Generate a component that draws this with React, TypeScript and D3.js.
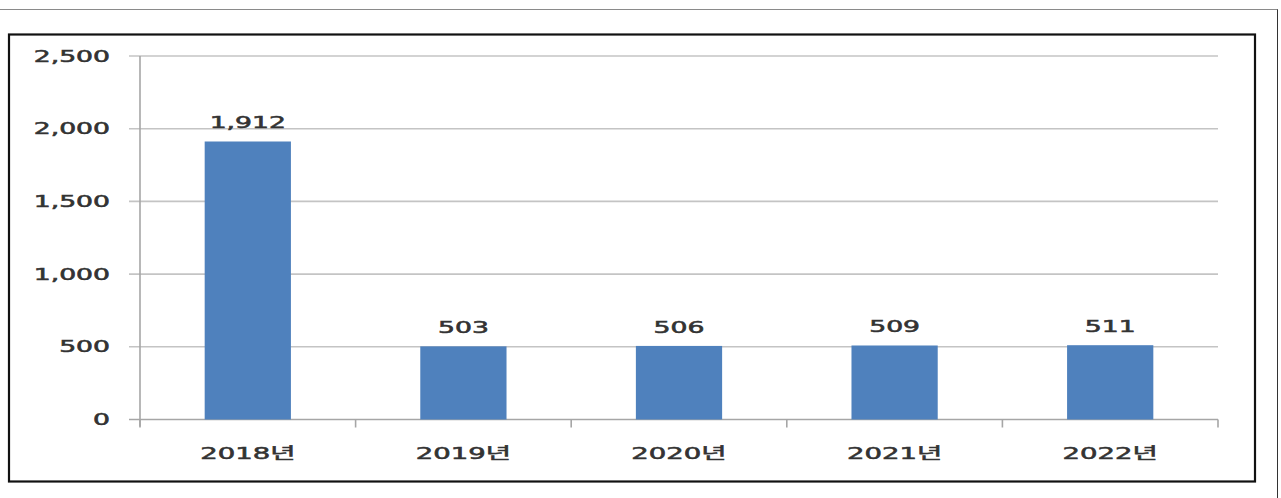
import React, { useEffect, useRef } from 'react'
import * as d3 from 'd3'

const years = ['2018년', '2019년', '2020년', '2021년', '2022년']
const values = [1912, 503, 506, 509, 511]
const yTicks = [0, 500, 1000, 1500, 2000, 2500]

const W = 1281
const H = 498
const FONT = '"DejaVu Sans", "Noto Sans CJK KR", sans-serif'
const SX = 1.72

export default function App() {
	const ref = useRef<SVGSVGElement>(null)

	useEffect(() => {
		const svg = d3.select(ref.current)
		svg.selectAll('*').remove()

		const left = 140
		const right = 1218
		const top = 56
		const bottom = 419.5

		const x = d3.scaleBand<string>()
			.domain(years)
			.range([left, right])
			.paddingInner(0.6)
			.paddingOuter(0.3)

		const y = d3.scaleLinear()
			.domain([0, 2500])
			.range([bottom, top])

		// medium-weight look: regular glyphs with a thin outline
		const style = (sel: any, size: number) => sel
			.attr('font-family', FONT)
			.attr('font-size', size)
			.attr('fill', '#333')
			.attr('stroke', '#333')
			.attr('stroke-width', 0.55)

		// outer frame
		svg.append('line')
			.attr('x1', 0).attr('x2', 1278).attr('y1', 9.5).attr('y2', 9.5)
			.attr('stroke', '#8a8a8a').attr('stroke-width', 1.2)
		svg.append('line')
			.attr('x1', 1277.5).attr('x2', 1277.5).attr('y1', 9.5).attr('y2', H)
			.attr('stroke', '#333').attr('stroke-width', 1)

		// inner border
		svg.append('rect')
			.attr('x', 9).attr('y', 34.5)
			.attr('width', 1246).attr('height', 447)
			.attr('fill', 'none')
			.attr('stroke', '#111')
			.attr('stroke-width', 2.2)

		// gridlines + y ticks
		const grid = svg.append('g')
		grid.selectAll('line')
			.data(yTicks)
			.enter()
			.append('line')
				.attr('x1', left - 11)
				.attr('x2', right)
				.attr('y1', d => y(d))
				.attr('y2', d => y(d))
				.attr('stroke', d => d === 0 ? '#a6a6a6' : '#c4c4c4')
				.attr('stroke-width', 1.6)

		grid.selectAll('text')
			.data(yTicks)
			.enter()
			.append('text')
				.attr('transform', d => `translate(110, ${y(d) + 5.5}) scale(${SX}, 1)`)
				.attr('text-anchor', 'end')
				.call(style, 15.5)
				.text(d => d3.format(',')(d))

		// y axis line
		svg.append('line')
			.attr('x1', left).attr('x2', left)
			.attr('y1', top).attr('y2', bottom + 7)
			.attr('stroke', '#a6a6a6').attr('stroke-width', 1.6)

		// category boundary ticks
		const step = x.step()
		svg.append('g')
			.selectAll('line')
			.data(d3.range(years.length + 1))
			.enter()
			.append('line')
				.attr('x1', i => left + i * step)
				.attr('x2', i => left + i * step)
				.attr('y1', bottom)
				.attr('y2', bottom + 8)
				.attr('stroke', '#a6a6a6')
				.attr('stroke-width', 1.6)

		// bars
		svg.append('g')
			.selectAll('rect')
			.data(values)
			.enter()
			.append('rect')
				.attr('x', (d, i) => x(years[i]) as number)
				.attr('y', d => y(d))
				.attr('width', x.bandwidth())
				.attr('height', d => bottom - y(d))
				.attr('fill', '#4f81bd')

		// value labels
		svg.append('g')
			.selectAll('text')
			.data(values)
			.enter()
			.append('text')
				.attr('transform', (d, i) => `translate(${(x(years[i]) as number) + x.bandwidth() / 2}, ${y(d) - 13}) scale(${SX}, 1)`)
				.attr('text-anchor', 'middle')
				.call(style, 15.5)
				.text(d => d3.format(',')(d))

		// category labels
		svg.append('g')
			.selectAll('text')
			.data(years)
			.enter()
			.append('text')
				.attr('transform', d => `translate(${(x(d) as number) + x.bandwidth() / 2}, 459) scale(1.72, 1)`)
				.attr('text-anchor', 'middle')
				.call(style, 16)
				.text(d => d)
	}, [])

	return (
		<svg
			ref={ref}
			width={W}
			height={H}
			style={{ position: 'absolute', left: 0, top: 0, background: '#fff' }}
		/>
	)
}
